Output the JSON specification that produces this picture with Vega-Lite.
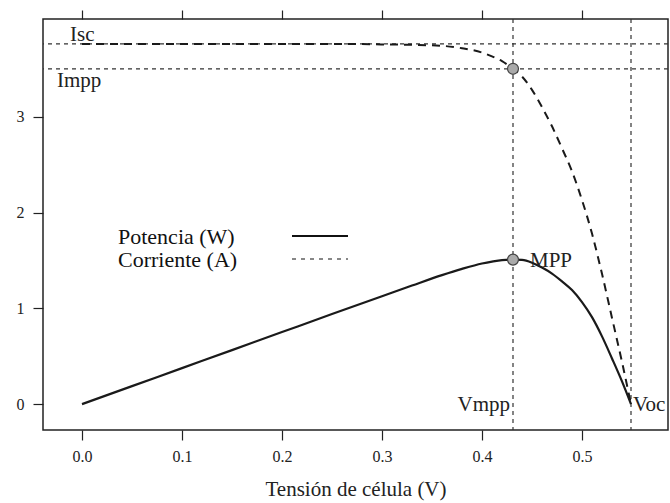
{
  "$schema": "https://vega.github.io/schema/vega-lite/v6.json",
  "autosize": {"type": "none"},
  "padding": {"left": 43, "top": 19, "right": 2, "bottom": 73},
  "width": 625,
  "height": 411,
  "background": "white",
  "config": {
    "view": {"stroke": "#222", "strokeWidth": 1.5},
    "font": "Liberation Serif",
    "axis": {"grid": false, "domain": false, "tickColor": "#222", "tickWidth": 1.2, "labelColor": "#222", "titleColor": "#222", "labelFont": "Liberation Serif", "titleFont": "Liberation Serif", "labelFontWeight": "normal", "titleFontWeight": "normal"}
  },
  "datasets": {
    "curve": [
      {"V": 0.0, "I": 3.76, "P": 0.0},
      {"V": 0.05, "I": 3.76, "P": 0.188},
      {"V": 0.1, "I": 3.76, "P": 0.376},
      {"V": 0.15, "I": 3.76, "P": 0.564},
      {"V": 0.2, "I": 3.76, "P": 0.752},
      {"V": 0.25, "I": 3.76, "P": 0.94},
      {"V": 0.3, "I": 3.755, "P": 1.1265},
      {"V": 0.33, "I": 3.75, "P": 1.2375},
      {"V": 0.36, "I": 3.74, "P": 1.3464},
      {"V": 0.38, "I": 3.715, "P": 1.4117},
      {"V": 0.4, "I": 3.67, "P": 1.468},
      {"V": 0.41, "I": 3.63, "P": 1.4883},
      {"V": 0.42, "I": 3.58, "P": 1.5036},
      {"V": 0.431, "I": 3.5, "P": 1.5085},
      {"V": 0.44, "I": 3.42, "P": 1.5048},
      {"V": 0.45, "I": 3.28, "P": 1.476},
      {"V": 0.46, "I": 3.1, "P": 1.426},
      {"V": 0.47, "I": 2.9, "P": 1.363},
      {"V": 0.48, "I": 2.67, "P": 1.2816},
      {"V": 0.49, "I": 2.43, "P": 1.1907},
      {"V": 0.5, "I": 2.13, "P": 1.065},
      {"V": 0.51, "I": 1.78, "P": 0.9078},
      {"V": 0.52, "I": 1.36, "P": 0.7072},
      {"V": 0.53, "I": 0.9, "P": 0.477},
      {"V": 0.54, "I": 0.44, "P": 0.2376},
      {"V": 0.549, "I": 0.0, "P": 0.0}
    ],
    "hrefs": [{"y": 3.76}, {"y": 3.5}],
    "vrefs": [{"V": 0.431}, {"V": 0.549}],
    "points": [{"V": 0.431, "y": 3.5}, {"V": 0.431, "y": 1.5085}],
    "labelsLeft": [
      {"V": -0.012, "y": 3.79, "label": "Isc"},
      {"V": -0.025, "y": 3.31, "label": "Impp"},
      {"V": 0.551, "y": -0.07, "label": "Voc"},
      {"V": 0.448, "y": 1.43, "label": "MPP"}
    ],
    "labelsRight": [{"V": 0.428, "y": -0.07, "label": "Vmpp"}],
    "legendText": [
      {"V": 0.036, "y": 1.67, "label": "Potencia (W)"},
      {"V": 0.036, "y": 1.43, "label": "Corriente (A)"}
    ],
    "legendSolid": [{"V": 0.21, "V2": 0.266, "y": 1.755}],
    "legendDash": [{"V": 0.21, "V2": 0.266, "y": 1.515}]
  },
  "layer": [
    {
      "data": {"name": "hrefs"},
      "mark": {"type": "rule", "color": "#333", "strokeWidth": 1.2, "strokeDash": [4, 4]},
      "encoding": {"y": {"field": "y", "type": "quantitative", "scale": {"domain": [-0.27, 4.02], "nice": false, "zero": false}, "axis": null}}
    },
    {
      "data": {"name": "vrefs"},
      "mark": {"type": "rule", "color": "#333", "strokeWidth": 1.2, "strokeDash": [4, 4]},
      "encoding": {"x": {"field": "V", "type": "quantitative", "scale": {"domain": [-0.039, 0.586], "nice": false, "zero": false}, "axis": null}}
    },
    {
      "data": {"name": "curve"},
      "mark": {"type": "line", "color": "#1a1a1a", "strokeWidth": 2.2, "interpolate": "monotone"},
      "encoding": {
        "x": {"field": "V", "type": "quantitative", "title": "Tensión de célula (V)",
          "axis": {"orient": "bottom", "values": [0, 0.1, 0.2, 0.3, 0.4, 0.5], "format": ".1f", "tickSize": 10, "labelPadding": 8, "labelFontSize": 16, "titleFontSize": 21, "titlePadding": 14}},
        "y": {"field": "P", "type": "quantitative",
          "axis": {"orient": "left", "values": [0, 1, 2, 3], "title": null, "tickSize": 10, "labelPadding": 9, "labelFontSize": 16}}
      }
    },
    {
      "data": {"name": "curve"},
      "mark": {"type": "line", "color": "#1a1a1a", "strokeWidth": 2, "strokeDash": [8, 6], "interpolate": "monotone"},
      "encoding": {
        "x": {"field": "V", "type": "quantitative",
          "axis": {"orient": "top", "values": [0, 0.1, 0.2, 0.3, 0.4, 0.5], "labels": false, "title": null, "tickSize": 9}},
        "y": {"field": "I", "type": "quantitative", "axis": null}
      }
    },
    {
      "data": {"name": "points"},
      "mark": {"type": "point", "shape": "circle", "filled": true, "fill": "#aaa", "stroke": "#444", "strokeWidth": 1.2, "size": 120, "opacity": 1},
      "encoding": {
        "x": {"field": "V", "type": "quantitative", "axis": null},
        "y": {"field": "y", "type": "quantitative", "axis": null}
      }
    },
    {
      "data": {"name": "labelsLeft"},
      "mark": {"type": "text", "align": "left", "baseline": "alphabetic", "fontSize": 21, "color": "#222", "font": "Liberation Serif"},
      "encoding": {
        "x": {"field": "V", "type": "quantitative", "axis": null},
        "y": {"field": "y", "type": "quantitative", "axis": null},
        "text": {"field": "label"}
      }
    },
    {
      "data": {"name": "labelsRight"},
      "mark": {"type": "text", "align": "right", "baseline": "alphabetic", "fontSize": 21, "color": "#222", "font": "Liberation Serif"},
      "encoding": {
        "x": {"field": "V", "type": "quantitative", "axis": null},
        "y": {"field": "y", "type": "quantitative", "axis": null},
        "text": {"field": "label"}
      }
    },
    {
      "data": {"name": "legendText"},
      "mark": {"type": "text", "align": "left", "baseline": "alphabetic", "fontSize": 22, "color": "#111", "font": "Liberation Serif"},
      "encoding": {
        "x": {"field": "V", "type": "quantitative", "axis": null},
        "y": {"field": "y", "type": "quantitative", "axis": null},
        "text": {"field": "label"}
      }
    },
    {
      "data": {"name": "legendSolid"},
      "mark": {"type": "rule", "color": "#111", "strokeWidth": 1.8},
      "encoding": {
        "x": {"field": "V", "type": "quantitative", "axis": null},
        "x2": {"field": "V2"},
        "y": {"field": "y", "type": "quantitative", "axis": null}
      }
    },
    {
      "data": {"name": "legendDash"},
      "mark": {"type": "rule", "color": "#111", "strokeWidth": 1.2, "strokeDash": [4, 5]},
      "encoding": {
        "x": {"field": "V", "type": "quantitative", "axis": null},
        "x2": {"field": "V2"},
        "y": {"field": "y", "type": "quantitative", "axis": null}
      }
    }
  ],
  "resolve": {"axis": {"x": "independent", "y": "independent"}}
}
